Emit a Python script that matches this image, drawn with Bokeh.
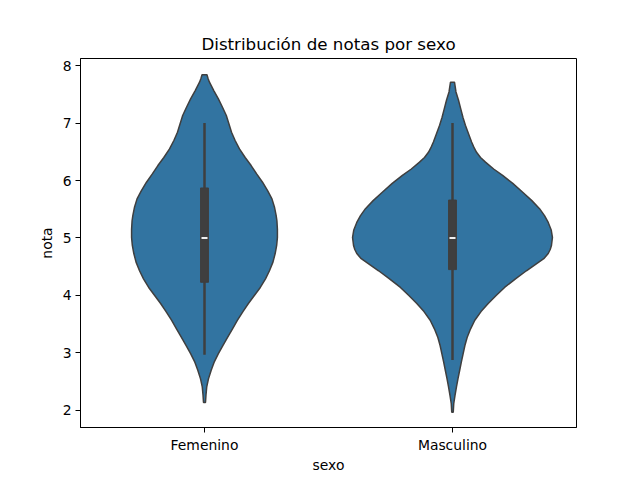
from bokeh.plotting import figure
from bokeh.models import Range1d, FixedTicker
from bokeh.embed import file_html
from bokeh.resources import INLINE

categorias = ["Femenino", "Masculino"]

# Violin outlines: nota levels and half-widths (in category units)
fem_nota = [2.14, 2.27, 2.41, 2.55, 2.70, 2.85, 2.99, 3.13, 3.27, 3.42, 3.57, 3.72, 3.86, 4.00,
            4.14, 4.29, 4.43, 4.58, 4.73, 4.87, 5.01, 5.15, 5.30, 5.39, 5.54, 5.68, 5.82, 5.97,
            6.11, 6.26, 6.40, 6.55, 6.70, 6.84, 6.98, 7.13, 7.27, 7.42, 7.56, 7.71, 7.78, 7.84]
fem_ancho = [0.004, 0.006, 0.009, 0.016, 0.027, 0.040, 0.056, 0.074, 0.093, 0.113, 0.133, 0.155,
             0.177, 0.201, 0.225, 0.246, 0.262, 0.276, 0.285, 0.291, 0.294, 0.294, 0.292, 0.289,
             0.282, 0.272, 0.255, 0.234, 0.211, 0.188, 0.164, 0.141, 0.123, 0.109, 0.099, 0.088,
             0.073, 0.056, 0.038, 0.020, 0.014, 0.010]

mas_nota = [1.97, 2.12, 2.26, 2.41, 2.55, 2.70, 2.85, 2.99, 3.13, 3.27, 3.42, 3.57, 3.72, 3.86,
            4.00, 4.14, 4.29, 4.43, 4.55, 4.64, 4.73, 4.80, 4.87, 5.01, 5.14, 5.27, 5.39, 5.51, 5.65,
            5.80, 5.95, 6.09, 6.20, 6.32, 6.40, 6.49, 6.58, 6.67, 6.81, 6.96, 7.10, 7.25, 7.40,
            7.54, 7.63, 7.71]
mas_ancho = [0.003, 0.005, 0.010, 0.016, 0.022, 0.029, 0.036, 0.043, 0.050, 0.059, 0.073, 0.090,
             0.115, 0.144, 0.176, 0.210, 0.254, 0.298, 0.338, 0.368, 0.386, 0.394, 0.399, 0.403, 0.398,
             0.386, 0.371, 0.351, 0.320, 0.282, 0.243, 0.202, 0.166, 0.133, 0.113, 0.097, 0.086,
             0.077, 0.065, 0.052, 0.042, 0.033, 0.024, 0.014, 0.011, 0.008]

# Inner box statistics
q1 = [4.23, 4.45]
mediana = [5.0, 5.0]
q3 = [5.87, 5.66]
bigote_bajo = [2.97, 2.88]
bigote_alto = [7.0, 7.0]

y_ticks = [2, 3, 4, 5, 6, 7, 8]

FILL = "#3274a1"
EDGE = "#3f3f3f"

p = figure(width=640, height=480, output_backend="svg", toolbar_location=None,
           x_range=Range1d(-0.5, 1.5), y_range=Range1d(1.704, 8.122),
           min_border_left=80, min_border_right=64, min_border_top=58, min_border_bottom=53)
p.grid.visible = False
p.background_fill_color = "white"
p.border_fill_color = "white"
p.outline_line_color = "black"
p.outline_line_width = 1

for i, (ys, ws) in enumerate([(fem_nota, fem_ancho), (mas_nota, mas_ancho)]):
    xs = [i + w for w in ws] + [i - w for w in reversed(ws)]
    yy = list(ys) + list(reversed(ys))
    p.patch(xs, yy, fill_color=FILL, line_color=EDGE, line_width=1.5)

pos = [0, 1]
p.segment(x0=pos, y0=bigote_bajo, x1=pos, y1=bigote_alto, line_color=EDGE, line_width=2.5)
p.vbar(x=pos, bottom=q1, top=q3, width=0.032, fill_color=EDGE, line_color=EDGE)
p.rect(x=pos, y=mediana, width=6, height=2, width_units="screen", height_units="screen",
       fill_color="#f0f0f0", line_color=None)

p.xaxis.ticker = FixedTicker(ticks=pos)
p.xaxis.major_label_overrides = {0: categorias[0], 1: categorias[1]}
p.yaxis.ticker = FixedTicker(ticks=y_ticks)
p.xaxis.axis_label = "sexo"
p.yaxis.axis_label = "nota"

for ax in [p.xaxis[0], p.yaxis[0]]:
    ax.axis_line_color = "black"
    ax.major_tick_line_color = "black"
    ax.major_tick_out = 5
    ax.major_tick_in = 0
    ax.minor_tick_line_color = None
    ax.major_label_text_font = "DejaVu Sans"
    ax.major_label_text_font_size = "13.9px"
    ax.major_label_text_color = "black"
    ax.axis_label_text_font = "DejaVu Sans"
    ax.axis_label_text_font_size = "13.9px"
    ax.axis_label_text_font_style = "normal"
    ax.axis_label_text_color = "black"
    ax.major_label_standoff = 4
p.xaxis.axis_label_standoff = 1
p.yaxis.axis_label_standoff = 5

p.title.text = "Distribución de notas por sexo"
p.title.align = "center"
p.title.text_font = "DejaVu Sans"
p.title.text_font_size = "16.7px"
p.title.text_font_style = "normal"
p.title.text_color = "black"
p.title.standoff = 9

open("out.html", "w").write(file_html(p, INLINE))
